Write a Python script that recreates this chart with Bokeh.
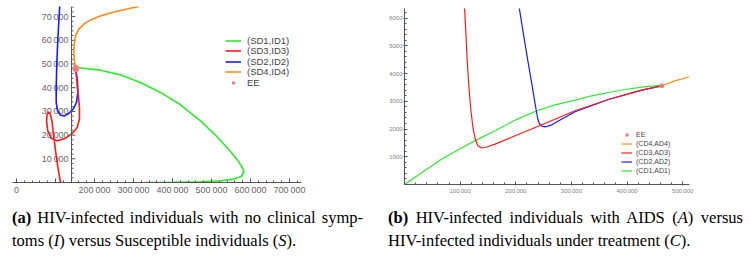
from bokeh.plotting import figure
from bokeh.models import FixedTicker, Span, Legend, LegendItem, Div
from bokeh.layouts import row, column
from bokeh.embed import file_html
from bokeh.resources import INLINE
from bokeh.core.properties import value

# ---------------- Panel (a): I versus S ----------------
sd1_s = [153800, 215400, 266700, 317900, 369200, 420500, 471800, 514500, 548700, 570000,
         581200, 582800, 576100, 557200, 523100, 471800, 403300, 330800]
sd1_i = [48500, 47400, 45400, 42200, 38000, 32800, 26000, 19300, 13100, 8730,
         5650, 4220, 2530, 1430, 720, 300, 100, 30]

sd3_s = [152100, 154600, 158200, 161500, 161500, 155600, 142800, 125600, 104400, 89000,
         80300, 76900, 78700, 82800, 87200, 91500, 94100, 97400, 101800, 106900, 112800]
sd3_i = [48100, 42900, 37300, 31600, 26800, 23200, 20700, 18700, 17600, 18700,
         21800, 26000, 28900, 29800, 28600, 25300, 21100, 16900, 11300, 5650, 0]

sd2_s = [111000, 108500, 105900, 103300, 101800, 101800, 105100, 112800, 123100, 134100,
         145400, 153800, 157200, 156400, 153800, 152100]
sd2_i = [74600, 68200, 59800, 50000, 40100, 33800, 30300, 28400, 28100, 29100,
         31000, 33800, 38000, 42200, 45700, 48100]

sd4_s = [152100, 148700, 147000, 147900, 151300, 159800, 172600, 189700, 215400, 249500,
         283800, 313600]
sd4_i = [48500, 50600, 54200, 58400, 61900, 64700, 66800, 68600, 70300, 71900,
         73200, 74300]

ee_a_s = [152100]
ee_a_i = [48100]

xa_ticks = [0, 100000, 200000, 300000, 400000, 500000, 600000, 700000]
xa_labels = ["0", "", "200\u2009000", "300\u2009000", "400\u2009000", "500\u2009000",
             "600\u2009000", "700\u2009000"]
ya_ticks = [10000, 20000, 30000, 40000, 50000, 60000, 70000]
ya_labels = ["10\u2009000", "20\u2009000", "30\u2009000", "40\u2009000", "50\u2009000",
             "60\u2009000", "70\u2009000"]
ya_axis_at = 141000  # S value where the vertical axis crosses

# ---------------- Panel (b): A versus C ----------------
cd1_c = [0, 31400, 64300, 97100, 128900, 163000, 198900, 237900, 270700, 306600,
         336600, 366400, 396400, 426400, 462300]
cd1_a = [0, 433, 880, 1262, 1600, 1936, 2322, 2657, 2873, 3043,
         3198, 3317, 3425, 3511, 3583]

cd3_c = [107900, 110400, 112700, 115800, 119400, 123000, 127100, 131900, 137900, 145100,
         163000, 198900, 246900, 306600, 366400, 426400, 462300]
cd3_a = [6381, 5422, 4459, 3497, 2657, 2055, 1637, 1395, 1323, 1334,
         1456, 1756, 2152, 2657, 3064, 3403, 3558]

cd2_c = [206100, 213800, 221700, 228900, 234800, 239000, 242000, 246900, 254000, 264800,
         282800, 306600, 366400, 426400, 462300]
cd2_a = [6381, 5422, 4459, 3619, 2898, 2415, 2199, 2105, 2080, 2152,
         2358, 2621, 3064, 3403, 3558]

cd4_c = [462300, 486200, 512000]
cd4_a = [3558, 3738, 3885]

ee_b_c = [462300]
ee_b_a = [3560]

xb_ticks = [100000, 200000, 300000, 400000, 500000]
xb_labels = ["100\u2009000", "200\u2009000", "300\u2009000", "400\u2009000", "500\u2009000"]
yb_ticks = [1000, 2000, 3000, 4000, 5000, 6000]
yb_labels = ["1000", "2000", "3000", "4000", "5000", "6000"]

GREEN = "#2ee82e"
RED = "#ff1a1a"
BLUE = "#1a1aff"
ORANGE = "#ff8c1a"
PINK = "#f08080"
AXIS = "#555555"
TICKLAB = "#666666"
SANS = "Liberation Sans"

# ======== figure (a) ========
pa = figure(width=375, height=200, x_range=(-10260, 730800), y_range=(0, 74260),
            y_axis_location=None, toolbar_location=None, output_backend="svg",
            min_border_left=12, min_border_right=74, min_border_top=6, min_border_bottom=18)
pa.outline_line_color = None
pa.grid.visible = False
pa.background_fill_color = None
pa.border_fill_color = None

xa = pa.xaxis[0]
xa.ticker = FixedTicker(ticks=xa_ticks, minor_ticks=[v * 20000 for v in range(-1, 37)])
xa.major_label_overrides = {t: l for t, l in zip(xa_ticks, xa_labels)}
xa.axis_line_color = AXIS
xa.major_tick_line_color = AXIS
xa.minor_tick_line_color = AXIS
xa.major_tick_in = 4
xa.major_tick_out = 0
xa.minor_tick_in = 2
xa.minor_tick_out = 0
xa.major_label_standoff = 2
xa.major_label_text_font = SANS
xa.major_label_text_font_size = "9px"
xa.major_label_text_color = TICKLAB

# hand-drawn vertical axis placed at S = ya_axis_at
pa.add_layout(Span(location=ya_axis_at, dimension="height", line_color=AXIS, line_width=1))
ya_minor = [v * 2000 for v in range(1, 38) if v % 5 != 0]
pa.ray(x=[ya_axis_at] * len(ya_minor), y=ya_minor, length=2, length_units="screen",
       angle=0, line_color=AXIS, line_width=1)
pa.ray(x=[ya_axis_at] * len(ya_ticks), y=ya_ticks, length=4, length_units="screen",
       angle=0, line_color=AXIS, line_width=1)
pa.text(x=[ya_axis_at] * len(ya_ticks), y=ya_ticks, text=ya_labels, x_offset=-3,
        text_align="right", text_baseline="middle", text_font=value(SANS),
        text_font_size="9px", text_color=TICKLAB)

ra1 = pa.line(sd1_s, sd1_i, line_color=GREEN, line_width=1.6)
ra2 = pa.line(sd2_s, sd2_i, line_color=BLUE, line_width=1.6)
ra4 = pa.line(sd4_s, sd4_i, line_color=ORANGE, line_width=1.6)
ra3 = pa.line(sd3_s, sd3_i, line_color=RED, line_width=1.6)
rae = pa.scatter(ee_a_s, ee_a_i, size=7, fill_color=PINK, line_color=None)

# legend of panel (a): one row per Legend so that the rows can sit closely together
leg_a_entries = [("(SD1,ID1)", ra1), ("(SD3,ID3)", ra3), ("(SD2,ID2)", ra2),
                 ("(SD4,ID4)", ra4), ("EE", rae)]
leg_a_rows_y = [136.5, 126.0, 115.5, 105.0, 94.5]  # screen offsets from frame bottom
for (lab, rend), yy in zip(leg_a_entries, leg_a_rows_y):
    pa.add_layout(Legend(items=[LegendItem(label=lab, renderers=[rend])],
                         location=(213, yy), padding=0, margin=0, spacing=0,
                         glyph_width=16, glyph_height=9, label_height=9, label_standoff=6,
                         label_text_font=SANS, label_text_font_size="9.5px",
                         background_fill_alpha=0, border_line_color=None))

# ======== figure (b) ========
pb = figure(width=375, height=200, x_range=(0, 512200), y_range=(0, 6345),
            toolbar_location=None, output_backend="svg",
            min_border_left=29, min_border_right=61, min_border_top=8, min_border_bottom=16)
pb.outline_line_color = None
pb.grid.visible = False
pb.background_fill_color = None
pb.border_fill_color = None

xb = pb.xaxis[0]
xb.ticker = FixedTicker(ticks=xb_ticks, minor_ticks=[v * 20000 for v in range(0, 26)])
xb.major_label_overrides = {t: l for t, l in zip(xb_ticks, xb_labels)}
yb = pb.yaxis[0]
yb.ticker = FixedTicker(ticks=yb_ticks, minor_ticks=[v * 200 for v in range(0, 32)])
yb.major_label_overrides = {t: l for t, l in zip(yb_ticks, yb_labels)}
for ax in (xb, yb):
    ax.axis_line_color = AXIS
    ax.major_tick_line_color = AXIS
    ax.minor_tick_line_color = AXIS
    ax.major_tick_in = 3
    ax.major_tick_out = 1
    ax.minor_tick_in = 2
    ax.minor_tick_out = 0
    ax.major_label_text_font = SANS
    ax.major_label_text_font_size = "6px"
    ax.major_label_text_color = "#808080"
xb.major_label_standoff = 2
yb.major_label_standoff = 1

rb1 = pb.line(cd1_c, cd1_a, line_color=GREEN, line_width=1.2)
rb2 = pb.line(cd2_c, cd2_a, line_color=BLUE, line_width=1.2)
rb3 = pb.line(cd3_c, cd3_a, line_color=RED, line_width=1.2)
rb4 = pb.line(cd4_c, cd4_a, line_color=ORANGE, line_width=1.2)
rbe = pb.scatter(ee_b_c, ee_b_a, size=5, fill_color=PINK, line_color=None)

leg_b = Legend(items=[LegendItem(label="EE", renderers=[rbe]),
                      LegendItem(label="(CD4,AD4)", renderers=[rb4]),
                      LegendItem(label="(CD3,AD3)", renderers=[rb3]),
                      LegendItem(label="(CD2,AD2)", renderers=[rb2]),
                      LegendItem(label="(CD1,AD1)", renderers=[rb1])],
               location=(217, 9), padding=0, margin=0, spacing=0,
               glyph_width=11, glyph_height=9, label_height=9, label_standoff=4,
               label_text_font=SANS, label_text_font_size="7px",
               background_fill_alpha=0, border_line_color=None)
pb.add_layout(leg_b)

# ======== captions ========
CAP = ("font-family:'Liberation Serif','Times New Roman',serif;font-size:16.5px;"
       "line-height:23px;color:#000;padding-top:6px;")
cap_a = Div(text=(
    f'<div style="{CAP}margin-left:12px;width:351px;">'
    '<div style="text-align:justify;text-align-last:justify;">'
    '<b>(a)</b> HIV-infected individuals with no clinical symp-</div>'
    '<div>toms (<i>I</i>) versus Susceptible individuals (<i>S</i>).</div></div>'),
    width=375, height=56, margin=0, styles={"overflow": "visible"})
cap_b = Div(text=(
    f'<div style="{CAP}margin-left:13px;width:355px;">'
    '<div style="text-align:justify;text-align-last:justify;">'
    '<b>(b)</b> HIV-infected individuals with AIDS (<i>A</i>) versus</div>'
    '<div>HIV-infected individuals under treatment (<i>C</i>).</div></div>'),
    width=375, height=56, margin=0, styles={"overflow": "visible"})

layout = row(column(pa, cap_a, spacing=0), column(pb, cap_b, spacing=0), spacing=0)

open("out.html", "w").write(file_html(layout, INLINE))
